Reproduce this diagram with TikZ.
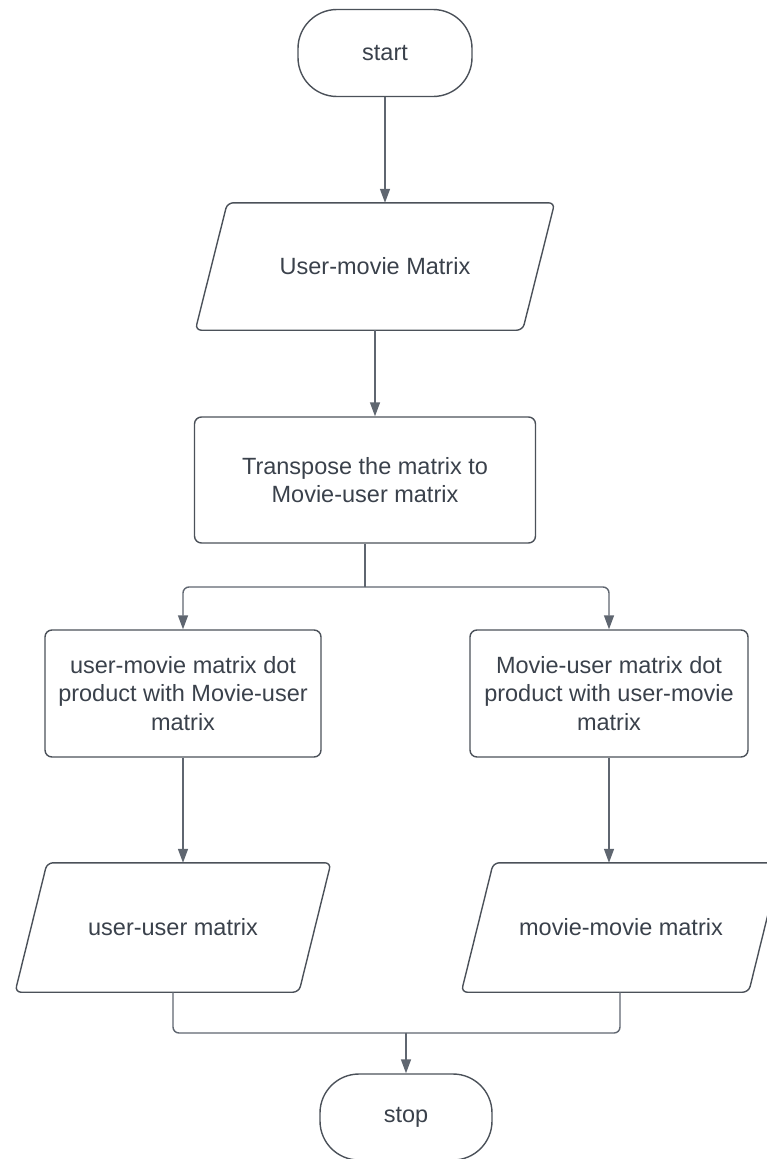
\documentclass[tikz,border=0pt]{standalone}
\usepackage{fontspec}
\setmainfont{Liberation Sans}
\usetikzlibrary{arrows.meta}
\definecolor{ink}{HTML}{3A414B}
\definecolor{edge}{HTML}{4B5159}
\definecolor{wire}{HTML}{5F6670}
\tikzset{
  txt/.style={font=\fontsize{23.5}{28.5}\selectfont, text=ink, align=center, inner sep=0pt},
  terminal/.style={txt, draw=edge, line width=1.4pt, rectangle,
    rounded corners=39pt, minimum width=174, minimum height=87},
  procbox/.style={txt, draw=edge, line width=1.4pt, rounded corners=7pt},
  iobody/.style={txt},
  iooutline/.style={draw=edge, line width=1.4pt, rounded corners=6pt},
  flow/.style={draw=wire, line width=1.4pt, rounded corners=6pt},
  arrowflow/.style={flow, -{Triangle[width=10pt,length=14pt]}, color=wire},
}
% parallelogram drawn round a plain node of the given mid-width
\newcommand{\ioshape}[2]{%
  \draw[iooutline] ([xshift=#2]#1.north west) -- ([xshift=#2]#1.north east)
    -- ([xshift=-#2]#1.south east) -- ([xshift=-#2]#1.south west) -- cycle;}
\begin{document}
\begin{tikzpicture}[x=1pt,y=-1pt]
\useasboundingbox (0,0) rectangle (767,1159);

\node[terminal] (start) at (385,53) {start};

\node[iobody, minimum width=327, minimum height=127] (io1) at (375,266.5) {User-movie Matrix};
\ioshape{io1}{16}

\node[procbox, minimum width=341, minimum height=126] (tr) at (365,480)
  {Transpose the matrix to\\Movie-user matrix};

\node[procbox, minimum width=276, minimum height=127] (dl) at (183,693.5)
  {user-movie matrix dot\\product with Movie-user\\matrix};
\node[procbox, minimum width=278, minimum height=127] (dr) at (609,693.5)
  {Movie-user matrix dot\\product with user-movie\\matrix};

\node[iobody, minimum width=283.5, minimum height=129] (uu) at (173,927.5) {user-user matrix};
\ioshape{uu}{16}
\node[iobody, minimum width=287, minimum height=129] (mm) at (621,927.5) {movie-movie matrix};
\ioshape{mm}{16}

\node[terminal, minimum width=172, minimum height=86] (stop) at (406,1117) {stop};

% connectors
\draw[arrowflow] (start.south) -- (start.south |- io1.north);
\draw[arrowflow] (io1.south) -- (io1.south |- tr.north);

\coordinate (split) at (365,587);
\draw[flow] (tr.south) -- (split);
\draw[arrowflow] (split) -| (dl.north);
\draw[arrowflow] (split) -| (dr.north);

\draw[arrowflow] (dl.south) -- (dl.south |- uu.north);
\draw[arrowflow] (dr.south) -- (dr.south |- mm.north);

\coordinate (join) at (406,1033);
\draw[flow] (uu.south) |- (join);
\draw[flow] ([xshift=-1]mm.south) |- (join);
\draw[arrowflow] (join) -- (stop.north);
\end{tikzpicture}
\end{document}
